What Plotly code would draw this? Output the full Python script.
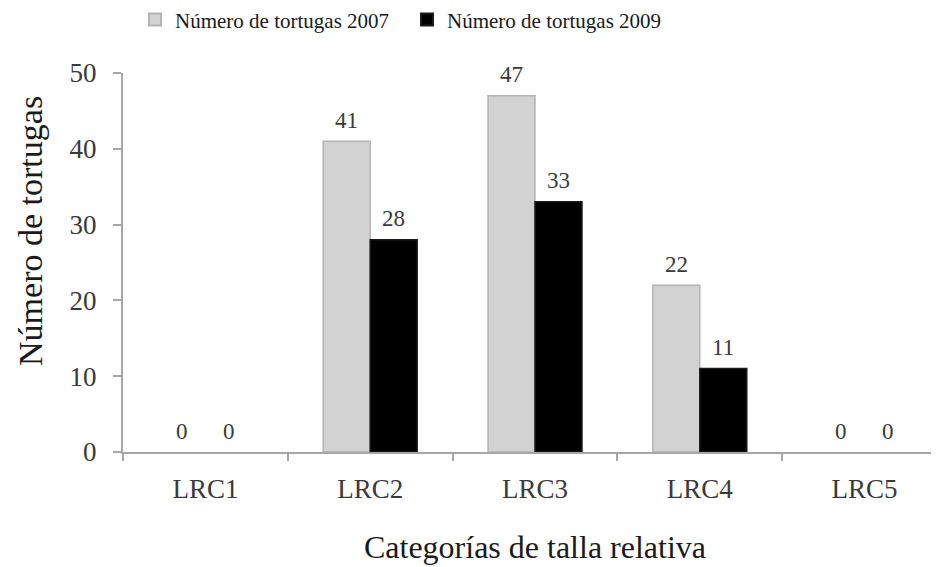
import plotly.graph_objects as go

categories = ["LRC1", "LRC2", "LRC3", "LRC4", "LRC5"]
tortugas_2007 = [0, 41, 47, 22, 0]
tortugas_2009 = [0, 28, 33, 11, 0]
series_names = ["Número de tortugas 2007", "Número de tortugas 2009"]
y_ticks = [0, 10, 20, 30, 40, 50]

FONT = "Liberation Serif"
TXT = "#3a3a3a"
AX = "#a6a6a6"

fig = go.Figure()
fig.add_trace(go.Bar(
    x=categories, y=tortugas_2007, name=series_names[0],
    marker=dict(color="#d2d2d2",
                line=dict(color="#b4b4b4", width=[0 if v == 0 else 1.5 for v in tortugas_2007])),
))
fig.add_trace(go.Bar(
    x=categories, y=tortugas_2009, name=series_names[1],
    marker=dict(color="#000000",
                line=dict(color="#1a1a1a", width=[0 if v == 0 else 1.5 for v in tortugas_2009])),
))

annotations = []
half = 23.5
for vals, shift in [(tortugas_2007, -half), (tortugas_2009, half)]:
    for c, v in zip(categories, vals):
        annotations.append(dict(
            x=c, y=v, xref="x", yref="y", text=str(v), showarrow=False,
            xshift=shift, yshift=21, font=dict(family=FONT, size=23, color=TXT),
        ))
annotations.append(dict(
    x=-0.113, y=0.583, xref="paper", yref="paper", text="Número de tortugas",
    textangle=-90, showarrow=False, font=dict(family=FONT, size=34, color="#1a1a1a"),
    xanchor="center", yanchor="middle",
))

fig.update_layout(
    width=939, height=567,
    margin=dict(l=115, r=0, t=65, b=123, autoexpand=False),
    paper_bgcolor="white", plot_bgcolor="white",
    barmode="group", bargap=0.43, bargroupgap=0,
    font=dict(family=FONT, color=TXT),
    showlegend=True,
    legend=dict(
        orientation="h", x=0.0146, y=1.14, xanchor="left", yanchor="middle",
        font=dict(family=FONT, size=21, color="#1a1a1a"),
        itemsizing="constant", entrywidth=227, traceorder="normal",
    ),
    annotations=annotations,
)
fig.update_xaxes(
    showline=True, linecolor=AX, linewidth=2,
    ticks="outside", tickcolor=AX, ticklen=7, tickwidth=2,
    tickson="boundaries", ticklabelstandoff=12,
    tickfont=dict(family=FONT, size=27, color=TXT),
    title=dict(text="Categorías de talla relativa", standoff=32,
               font=dict(family=FONT, size=32, color="#1a1a1a")),
    showgrid=False,
)
fig.update_yaxes(
    range=[0, 50], tickvals=y_ticks,
    showline=True, linecolor=AX, linewidth=2,
    ticks="outside", tickcolor=AX, ticklen=8, tickwidth=2,
    ticklabelstandoff=11,
    tickfont=dict(family=FONT, size=27, color=TXT),
    showgrid=False, zeroline=False,
)

fig.write_html("out.html")
